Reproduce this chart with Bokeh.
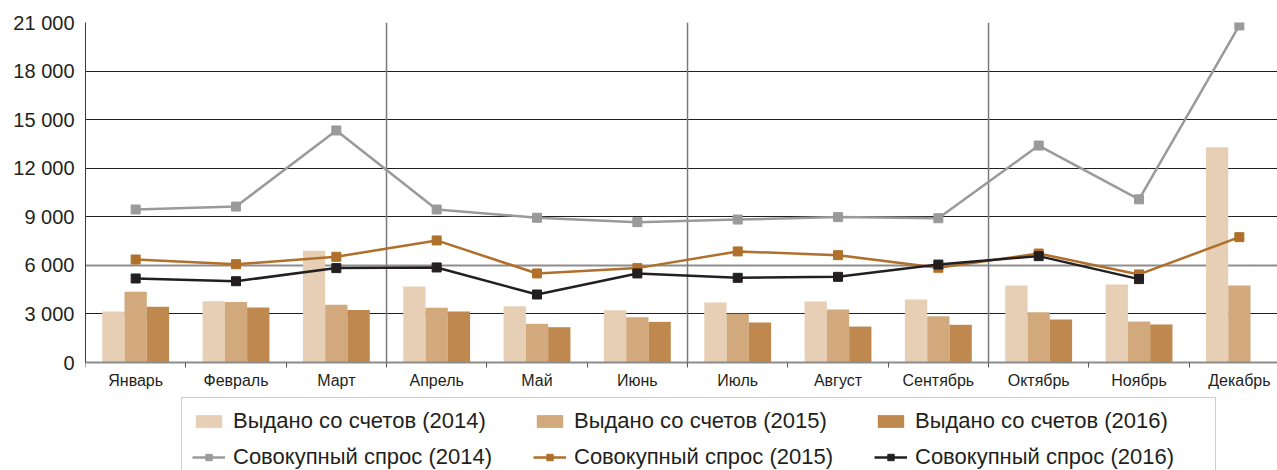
from bokeh.plotting import figure
from bokeh.models import (Range1d, FixedTicker, Grid, Legend, LegendItem,
                          ColumnDataSource)
from bokeh.transform import dodge
from bokeh.embed import file_html
from bokeh.resources import INLINE

months = ["Январь", "Февраль", "Март", "Апрель", "Май", "Июнь", "Июль",
          "Август", "Сентябрь", "Октябрь", "Ноябрь", "Декабрь"]
issued_2014 = [3150, 3790, 6900, 4690, 3480, 3230, 3710, 3770, 3890, 4760, 4820, 13290]
issued_2015 = [4370, 3730, 3560, 3380, 2390, 2800, 3010, 3270, 2860, 3110, 2530, 4760]
issued_2016 = [3440, 3400, 3250, 3150, 2180, 2510, 2470, 2220, 2330, 2660, 2350]
demand_2014 = [9450, 9630, 14330, 9450, 8940, 8670, 8830, 8980, 8910, 13400, 10080, 20820]
demand_2015 = [6360, 6070, 6530, 7540, 5500, 5830, 6860, 6630, 5850, 6730, 5440, 7740]
demand_2016 = [5190, 5020, 5830, 5870, 4200, 5500, 5230, 5290, 6050, 6570, 5150]
y_ticks = [0, 3000, 6000, 9000, 12000, 15000, 18000, 21000]
y_tick_labels = ["0", "3 000", "6 000", "9 000", "12 000", "15 000", "18 000", "21 000"]
quarter_breaks = [3, 6, 9]
labels = ["Выдано со счетов (2014)", "Выдано со счетов (2015)", "Выдано со счетов (2016)",
          "Совокупный спрос (2014)", "Совокупный спрос (2015)", "Совокупный спрос (2016)"]

xpos = [i + 0.5 for i in range(len(months))]
src = ColumnDataSource(dict(x=xpos, b14=issued_2014, b15=issued_2015, d14=demand_2014, d15=demand_2015))
src16 = ColumnDataSource(dict(x=xpos[:len(issued_2016)], b16=issued_2016, d16=demand_2016))
qsrc = ColumnDataSource(dict(x=quarter_breaks, y0=[0] * len(quarter_breaks),
                             y1=[y_ticks[-1]] * len(quarter_breaks)))

FONT = "Liberation Sans"
TXT = "#231F20"

# layout: plot area 340px tall for 0..21000, 108px reserved below for labels + legend
YMAX = y_ticks[-1]
YMIN = -YMAX * 108 / 340

p = figure(width=1277, height=470, output_backend="svg", toolbar_location=None,
           x_range=Range1d(0, 11.88), y_range=Range1d(YMIN, YMAX),
           min_border_left=85, min_border_right=0, min_border_top=22, min_border_bottom=0)
p.outline_line_color = None
p.background_fill_color = "white"
p.border_fill_color = "white"

# grids
p.xgrid.visible = False
p.ygrid.ticker = FixedTicker(ticks=[3000, 9000, 12000, 15000, 18000])
p.ygrid.grid_line_color = "#231F20"
p.ygrid.grid_line_width = 1
p.add_layout(Grid(dimension=1, ticker=FixedTicker(ticks=[6000, 21000]),
                  grid_line_color="#8E8E8E", grid_line_width=2))
p.segment(x0="x", y0="y0", x1="x", y1="y1", source=qsrc, line_color="#7A7A7A", line_width=1.5)

# y axis
ya = p.yaxis[0]
ya.ticker = FixedTicker(ticks=y_ticks)
ya.bounds = (0, YMAX)
ya.major_label_overrides = {t: l for t, l in zip(y_ticks, y_tick_labels)}
ya.major_tick_out = 0
ya.major_tick_in = 0
ya.minor_tick_out = 0
ya.minor_tick_in = 0
ya.axis_line_color = "#3C3C3C"
ya.axis_line_width = 1
ya.major_label_text_font = FONT
ya.major_label_text_font_size = "20px"
ya.major_label_text_color = TXT
ya.major_label_standoff = 11

# x axis at y = 0
xa = p.xaxis[0]
xa.fixed_location = 0
xa.ticker = FixedTicker(ticks=xpos, minor_ticks=list(range(13)))
xa.major_label_overrides = {x: m for x, m in zip(xpos, months)}
xa.major_tick_out = 0
xa.major_tick_in = 0
xa.minor_tick_out = 5
xa.minor_tick_in = 0
xa.minor_tick_line_color = "#555555"
xa.axis_line_color = "#8C8C8C"
xa.axis_line_width = 2
xa.major_label_text_font = FONT
xa.major_label_text_font_size = "16px"
xa.major_label_text_color = TXT
xa.major_label_standoff = 4

W = 0.222
c14, c15, c16 = "#E6CFB4", "#D1A97D", "#BF884E"
rb14 = p.vbar(x=dodge("x", -W, range=p.x_range), top="b14", width=W, source=src,
              fill_color=c14, line_color=None)
rb15 = p.vbar(x=dodge("x", 0, range=p.x_range), top="b15", width=W, source=src,
              fill_color=c15, line_color=None)
rb16 = p.vbar(x=dodge("x", W, range=p.x_range), top="b16", width=W, source=src16,
              fill_color=c16, line_color=None)

g14, g15, g16 = "#9A9A9B", "#B06F2A", "#231F20"
rl14 = p.line("x", "d14", source=src, line_color=g14, line_width=2.5)
rs14 = p.scatter("x", "d14", source=src, marker="square", size=9, fill_color=g14, line_color=g14)
rl15 = p.line("x", "d15", source=src, line_color=g15, line_width=2.5)
rs15 = p.scatter("x", "d15", source=src, marker="square", size=9, fill_color=g15, line_color=g15)
rl16 = p.line("x", "d16", source=src16, line_color=g16, line_width=2.5)
rs16 = p.scatter("x", "d16", source=src16, marker="square", size=9, fill_color=g16, line_color=g16)

items = [
    LegendItem(label=labels[0], renderers=[rb14]),
    LegendItem(label=labels[1], renderers=[rb15]),
    LegendItem(label=labels[2], renderers=[rb16]),
    LegendItem(label=labels[3], renderers=[rl14, rs14]),
    LegendItem(label=labels[4], renderers=[rl15, rs15]),
    LegendItem(label=labels[5], renderers=[rl16, rs16]),
]
legend = Legend(items=items, location=(96, -11), orientation="horizontal", nrows=2, ncols=3,
                border_line_color="#C8955A", border_line_width=1.5,
                background_fill_color="white", background_fill_alpha=1,
                label_text_font=FONT, label_text_font_size="22px", label_text_color=TXT,
                glyph_width=33, glyph_height=16, label_standoff=8, label_width=290,
                label_height=22, spacing=10, padding=10, margin=0)
p.add_layout(legend)

open("out.html", "w").write(file_html(p, INLINE))
